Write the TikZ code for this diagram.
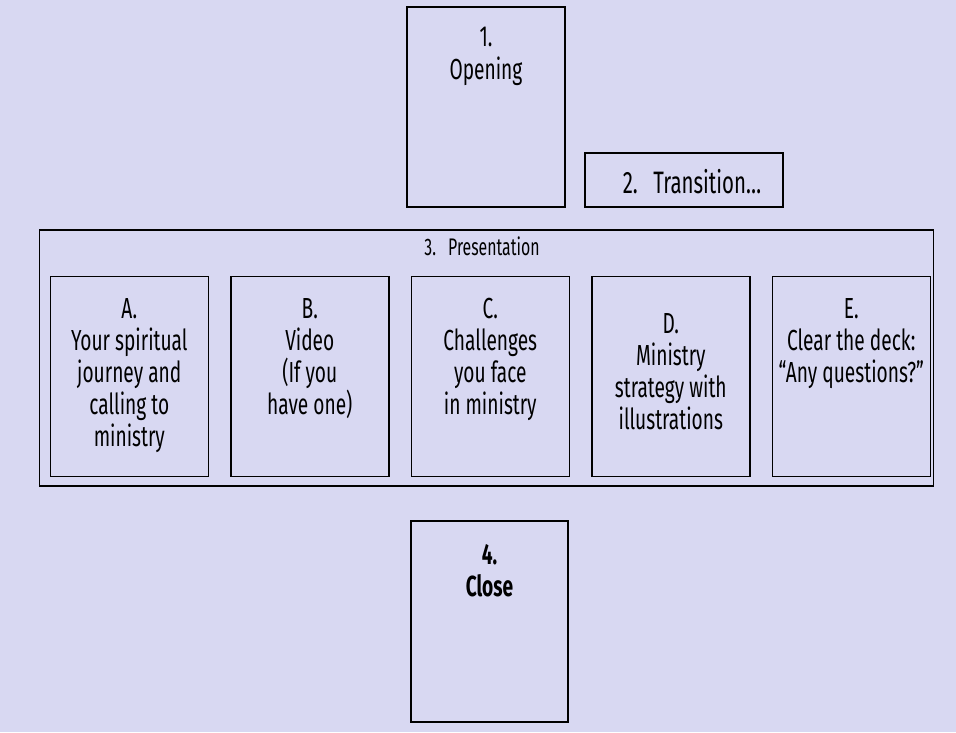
\documentclass[tikz,border=0pt]{standalone}
\usepackage{fontspec}
\setmainfont{Fira Sans}[FakeStretch=0.66]
\usetikzlibrary{positioning}
\definecolor{lavender}{RGB}{216,216,242}

\begin{document}
\begin{tikzpicture}[x=1pt, y=-1pt, node distance=21pt,
        card/.style={rectangle, draw, line width=1.5pt, minimum width=158pt, minimum height=200pt, inner sep=0pt},
        frame/.style={rectangle, draw, line width=1.5pt, inner sep=0pt},
        caption/.style={align=center, inner sep=0pt, font=\fontsize{29}{32}\selectfont}
    ]
        % Background
        \fill [lavender] (0,0) rectangle (956,732);

        % Opening and transition
        \node [card] (opening) at (486,107) {};
        \node [caption, font=\fontsize{29}{33}\selectfont, below=21pt of opening.north] (openingtext) {1.\\Opening};
        \node [frame, minimum width=198pt, minimum height=54pt] (transition) at (684,180) {};
        \node [caption, font=\fontsize{31}{33}\selectfont, anchor=base] (transitiontext) at (692,193) {2.\enspace Transition…};

        % Presentation
        \node [frame, minimum width=894pt, minimum height=256pt] (presentation) at (486.5,357.8) {};
        \node [caption, font=\fontsize{24}{26}\selectfont, anchor=base] (presentationtext) at (482,255) {3.\enspace Presentation};

        \node [card] (partA) at (129.3,376.7) {};
        \node [card, right=of partA] (partB) {};
        \node [card, right=of partB] (partC) {};
        \node [card, right=of partC] (partD) {};
        \node [card, right=of partD] (partE) {};

        \node [caption, below=22pt of partA.north] (partAtext) {A.\\Your spiritual\\journey and\\calling to\\ministry};
        \node [caption, below=22pt of partB.north] (partBtext) {B.\\Video\\(If you\\have one)};
        \node [caption, below=22pt of partC.north] (partCtext) {C.\\Challenges\\you face\\in ministry};
        \node [caption, below=37pt of partD.north] (partDtext) {D.\\Ministry\\strategy with\\illustrations};
        \node [caption, below=22pt of partE.north] (partEtext) {E.\\Clear the deck:\\“Any questions?”};

        % Close
        \node [card, minimum width=157pt, minimum height=201pt] (close) at (489.5,621.5) {};
        \node [caption, font=\fontsize{29}{32}\selectfont\bfseries, below=24pt of close.north] (closetext) {4.\\Close};
    \end{tikzpicture}
\end{document}
